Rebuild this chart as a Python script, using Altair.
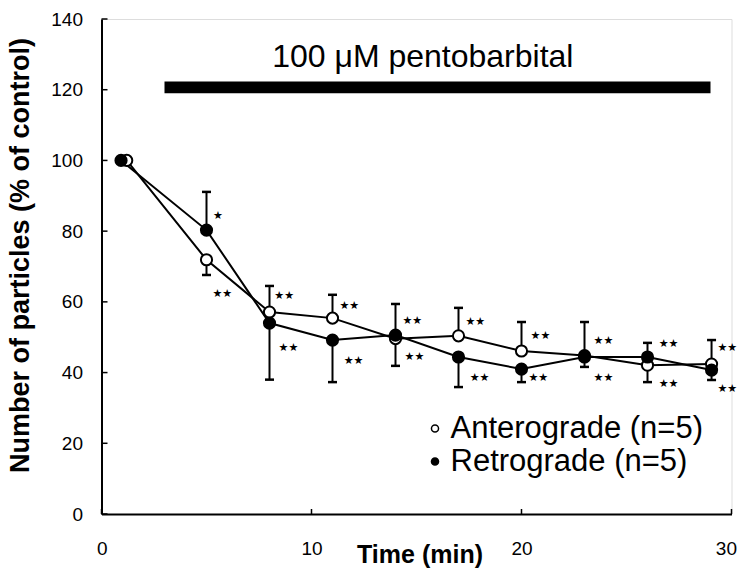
import altair as alt
import pandas as pd

# ---- data ----
series_names = ["Anterograde (n=5)", "Retrograde (n=5)"]

antero_t = [1.2, 5, 8, 11, 14, 17, 20, 23, 26, 29.05]
antero_v = [100, 71.9, 57.1, 55.4, 49.6, 50.4, 46.1, 44.8, 42.1, 42.4]
retro_t = [0.93, 5, 8, 11, 14, 17, 20, 23, 26, 29.05]
retro_v = [100, 80.3, 54.0, 49.2, 50.6, 44.4, 41.0, 44.4, 44.4, 40.7]

# error bar end (one-sided) for each point; None = no visible bar
antero_err = [None, 67.6, 64.5, 62.0, 41.9, 58.3, 54.3, 54.3, 37.3, 49.2]
retro_err = [None, 91.1, 38.0, 37.3, 59.4, 35.9, 37.3, 41.6, 48.4, 37.9]

star_t = [5.55, 5.75, 8.7, 8.9, 11.8, 12.0, 14.8, 14.9, 17.8, 18.0,
          20.9, 20.8, 23.9, 23.9, 27.0, 27.0, 29.8, 29.8]
star_v = [84.3, 62.2, 61.7, 47.0, 58.8, 43.3, 54.6, 44.4, 54.3, 38.5,
          50.4, 38.5, 48.9, 38.5, 48.1, 36.8, 47.0, 35.4]
star_txt = ["★"] + ["★★"] * 17

drug_start = [3.0]
drug_end = [29.0]
drug_low = [119.0]
drug_high = [122.3]
drug_label = ["100 \u03bcM pentobarbital"]
drug_label_t = [15.3]
drug_label_v = [129.3]

y_ticks = [0, 20, 40, 60, 80, 100, 120, 140]
x_ticks = [0, 10, 20, 30]

W, H = 630, 495
FONT = "Liberation Sans"

rows = []
for t, v, e in zip(antero_t, antero_v, antero_err):
    rows.append({"t": t, "v": v, "err": e, "series": series_names[0]})
for t, v, e in zip(retro_t, retro_v, retro_err):
    rows.append({"t": t, "v": v, "err": e, "series": series_names[1]})
df = pd.DataFrame(rows)
df_err = df.dropna(subset=["err"])

stars = pd.DataFrame({"t": star_t, "v": star_v, "s": star_txt})
drug = pd.DataFrame({"t": drug_start, "t2": drug_end, "v": drug_low, "v2": drug_high})
drug_txt = pd.DataFrame({"t": drug_label_t, "v": drug_label_v, "s": drug_label})
yt = pd.DataFrame({"v": y_ticks})
xt = pd.DataFrame({"t": x_ticks})

xs = alt.Scale(domain=[0, 30], nice=False, zero=False)
ys = alt.Scale(domain=[0, 140], nice=False)

x_axis = alt.Axis(values=x_ticks, format="d", ticks=False, grid=False,
                  labelFontSize=19, labelPadding=25, labelFont=FONT,
                  labelFlush=True, labelFlushOffset=5,
                  title="Time (min)", titleFontSize=25, titleFont=FONT,
                  titleFontWeight="bold", titleX=318, titleY=48,
                  titleBaseline="alphabetic",
                  domainColor="black", domainWidth=2, labelColor="black", titleColor="black")
y_axis = alt.Axis(values=y_ticks, format="d", ticks=False, grid=False,
                  labelFontSize=19, labelPadding=19, labelFont=FONT, labelFlush=False,
                  title="Number of particles (% of control)", titleFontSize=27,
                  titleFont=FONT, titleFontWeight="bold", titlePadding=16,
                  titleY=236,
                  domainColor="black", domainWidth=2, labelColor="black", titleColor="black")

X = alt.X("t:Q", scale=xs, axis=x_axis)
Y = alt.Y("v:Q", scale=ys, axis=y_axis)

base = alt.Chart(df)

lines = base.mark_line(color="black", strokeWidth=2).encode(
    x=X, y=Y, detail="series:N")

err_rule = alt.Chart(df_err).mark_rule(color="black", strokeWidth=2).encode(
    x=alt.X("t:Q", scale=xs), y=alt.Y("v:Q", scale=ys), y2="err:Q")
err_cap = alt.Chart(df_err).mark_tick(color="black", thickness=2.5, size=9,
                                       orient="horizontal", opacity=1).encode(
    x=alt.X("t:Q", scale=xs), y=alt.Y("err:Q", scale=ys))

pts = base.mark_point(shape="circle", stroke="black", strokeWidth=2,
                      size=125, opacity=1, fillOpacity=1).encode(
    x=alt.X("t:Q", scale=xs), y=alt.Y("v:Q", scale=ys),
    fill=alt.Fill("series:N",
                  scale=alt.Scale(domain=series_names, range=["white", "black"]),
                  legend=alt.Legend(title=None, orient="none", legendX=318,
                                    legendY=394, labelFontSize=31, labelFont=FONT,
                                    labelColor="black", symbolSize=50, labelLimit=0,
                                    symbolStrokeColor="black", symbolStrokeWidth=1.5,
                                    symbolType="circle", labelOffset=0,
                                    rowPadding=1)),
    order=alt.Order("series:N", sort="ascending"))

star_text = alt.Chart(stars).mark_text(font="DejaVu Sans", fontSize=11,
                                       color="black", baseline="middle",
                                       align="center").encode(
    x=alt.X("t:Q", scale=xs), y=alt.Y("v:Q", scale=ys), text="s:N")

drug_bar = alt.Chart(drug).mark_rect(color="black").encode(
    x=alt.X("t:Q", scale=xs), x2="t2:Q", y=alt.Y("v:Q", scale=ys), y2="v2:Q")
drug_text = alt.Chart(drug_txt).mark_text(font=FONT, fontSize=32, color="black",
                                          baseline="middle", align="center").encode(
    x=alt.X("t:Q", scale=xs), y=alt.Y("v:Q", scale=ys), text="s:N")

ytick = alt.Chart(yt).mark_rule(color="black", strokeWidth=1.5).encode(
    y=alt.Y("v:Q", scale=ys), x=alt.value(0), x2=alt.value(6))
xtick = alt.Chart(xt).mark_rule(color="black", strokeWidth=1.5).encode(
    x=alt.X("t:Q", scale=xs), y=alt.value(H), y2=alt.value(H - 5))

chart = alt.layer(lines, err_rule, err_cap, pts, star_text, drug_bar, drug_text,
                  ytick, xtick).properties(
    width=W, height=H,
    autosize=alt.AutoSizeParams(type="none"),
    padding={"left": 93.5, "top": 11, "right": 5.5, "bottom": 54},
).configure_view(stroke=None).configure(background="white")

chart.save("out.html", embed_options={"renderer": "svg", "actions": False})
